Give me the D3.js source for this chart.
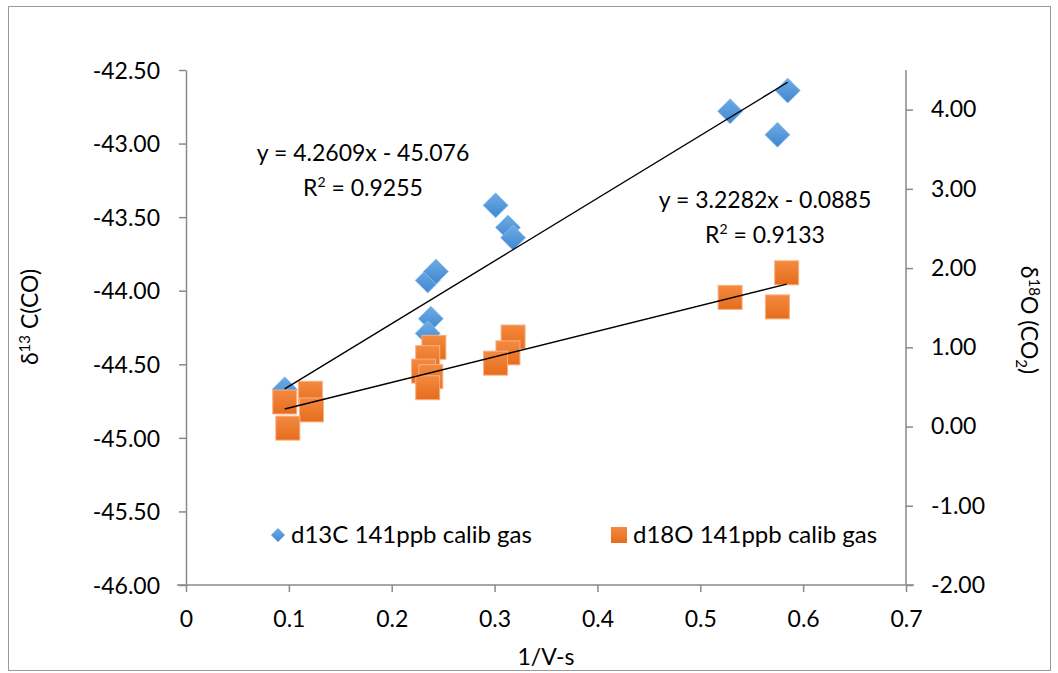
<!DOCTYPE html>
<html><head><meta charset="utf-8">
<script src="https://cdn.jsdelivr.net/npm/d3@7"></script>
<style>
body{margin:0;background:#fff;}
svg text{font-family:Lato,"Open Sans",sans-serif;fill:#000;}
</style></head>
<body><svg id="c" width="1058" height="673"></svg>
<script>
// ---- data ----
const d13cX = [0.096, 0.235, 0.243, 0.238, 0.235, 0.301, 0.313, 0.318, 0.529, 0.585, 0.575];
const d13cY = [-44.67, -43.93, -43.87, -44.19, -44.29, -43.42, -43.57, -43.64, -42.78, -42.64, -42.94];
const d18oX = [0.096, 0.121, 0.122, 0.099, 0.241, 0.235, 0.231, 0.238, 0.235, 0.318, 0.313, 0.301, 0.584, 0.529, 0.575];
const d18oY = [0.31, 0.42, 0.21, -0.02, 1.00, 0.87, 0.70, 0.63, 0.49, 1.13, 0.93, 0.80, 1.94, 1.63, 1.51];
const xTicks = [0, 0.1, 0.2, 0.3, 0.4, 0.5, 0.6, 0.7];
const leftTicks = [-42.5, -43, -43.5, -44, -44.5, -45, -45.5, -46];
const rightTicks = [4, 3, 2, 1, 0, -1, -2];
const fit13 = {slope: 4.2609, intercept: -45.076, r2: "0.9255", label: "y = 4.2609x - 45.076"};
const fit18 = {slope: 3.2282, intercept: -0.0885, r2: "0.9133", label: "y = 3.2282x - 0.0885"};
const seriesNames = ["d13C 141ppb calib gas", "d18O 141ppb calib gas"];

const FS = "23px";
const svg = d3.select("#c");
const defs = svg.append("defs");
const gb = defs.append("linearGradient").attr("id","gBlue").attr("x1",0).attr("y1",0).attr("x2",0).attr("y2",1);
gb.append("stop").attr("offset","0%").attr("stop-color","#6eabe6");
gb.append("stop").attr("offset","100%").attr("stop-color","#3f87cf");
const go = defs.append("linearGradient").attr("id","gOrange").attr("x1",0).attr("y1",0).attr("x2",0).attr("y2",1);
go.append("stop").attr("offset","0%").attr("stop-color","#f38a40");
go.append("stop").attr("offset","100%").attr("stop-color","#e76c1c");

// outer border
svg.append("rect").attr("x",8.5).attr("y",6.5).attr("width",1042).attr("height",664)
  .attr("fill","none").attr("stroke","#9a9a9a").attr("stroke-width",1);

const x = d3.scaleLinear().domain([0,0.7]).range([186,906]);
const yL = d3.scaleLinear().domain([-46,-42.5]).range([585,70]);
const yR = d3.scaleLinear().domain([-2,4.5]).range([585,70]);

const fmt2 = d => d3.format(".2f")(d).replace("\u2212","-");
const axisColor = "#8a8a8a";
function styleAxis(g){
  g.select(".domain").attr("stroke",axisColor).attr("stroke-width",1.5);
  g.selectAll(".tick line").attr("stroke",axisColor).attr("stroke-width",1.5);
  g.selectAll(".tick text").style("font-size",FS).attr("fill","#000");
}
const gx = svg.append("g").attr("transform","translate(0,585)")
  .call(d3.axisBottom(x).tickValues(xTicks).tickSize(7).tickSizeOuter(0).tickPadding(19).tickFormat(d=>d===0?"0":d3.format(".1f")(d)));
styleAxis(gx);
gx.select(".domain").attr("d","M177,0H914");
const gl = svg.append("g").attr("transform","translate(186,0)")
  .call(d3.axisLeft(yL).tickValues(leftTicks).tickSize(7).tickSizeOuter(0).tickPadding(19).tickFormat(fmt2));
styleAxis(gl);
gl.selectAll(".tick text").attr("dy","0.36em");
const gr = svg.append("g").attr("transform","translate(906,0)")
  .call(d3.axisRight(yR).tickValues(rightTicks).tickSize(7).tickSizeOuter(0).tickPadding(18).tickFormat(fmt2));
styleAxis(gr);
gr.select(".domain").attr("d","M0,70V585");

// markers
const diamond = s => `M0,${-s}L${s},0L0,${s}L${-s},0Z`;
svg.append("g").selectAll("path").data(d13cX.map((v,i)=>[v,d13cY[i]])).join("path")
  .attr("d",diamond(12.5)).attr("transform",d=>`translate(${x(d[0])},${yL(d[1])})`)
  .attr("fill","url(#gBlue)").attr("stroke","#8fc0ee").attr("stroke-width",0.8);
svg.append("g").selectAll("rect").data(d18oX.map((v,i)=>[v,d18oY[i]])).join("rect")
  .attr("x",d=>x(d[0])-12).attr("y",d=>yR(d[1])-12).attr("width",24).attr("height",24)
  .attr("fill","url(#gOrange)").attr("stroke","#f7b083").attr("stroke-width",1);

// trendlines
const ext13 = d3.extent(d13cX), ext18 = d3.extent(d18oX);
svg.append("line").attr("x1",x(ext13[0])).attr("x2",x(ext13[1]))
  .attr("y1",yL(fit13.slope*ext13[0]+fit13.intercept)).attr("y2",yL(fit13.slope*ext13[1]+fit13.intercept))
  .attr("stroke","#000").attr("stroke-width",1.4);
svg.append("line").attr("x1",x(ext18[0])).attr("x2",x(ext18[1]))
  .attr("y1",yR(fit18.slope*ext18[0]+fit18.intercept)).attr("y2",yR(fit18.slope*ext18[1]+fit18.intercept))
  .attr("stroke","#000").attr("stroke-width",1.4);

// equation labels
function eqLabel(cx, by, fit){
  svg.append("text").attr("x",cx).attr("y",by).attr("text-anchor","middle").style("font-size",FS).text(fit.label);
  const t = svg.append("text").attr("x",cx).attr("y",by+35).attr("text-anchor","middle").style("font-size",FS);
  t.append("tspan").text("R");
  t.append("tspan").text("2").style("font-size","14px").attr("dy","-9");
  t.append("tspan").text(" = "+fit.r2).attr("dy","9");
}
eqLabel(363, 161, fit13);
eqLabel(765, 208, fit18);

// legend
svg.append("path").attr("d",diamond(7)).attr("transform","translate(278,535)").attr("fill","url(#gBlue)");
svg.append("text").attr("x",291).attr("y",543).style("font-size","24px").text(seriesNames[0]);
svg.append("rect").attr("x",611).attr("y",527).attr("width",16).attr("height",16).attr("fill","url(#gOrange)");
svg.append("text").attr("x",633).attr("y",543).style("font-size","24px").text(seriesNames[1]);

// axis titles
svg.append("text").attr("x",546).attr("y",665).attr("text-anchor","middle").style("font-size",FS).text("1/V-s");
const lt = svg.append("text").attr("transform","translate(38,317) rotate(-90)").attr("text-anchor","middle").style("font-size",FS);
lt.append("tspan").text("δ");
lt.append("tspan").text("13").style("font-size","15px").attr("dy","-8");
lt.append("tspan").text(" C(CO)").attr("dy","8");
const rt = svg.append("text").attr("transform","translate(1021,320) rotate(90)").attr("text-anchor","middle").style("font-size",FS);
rt.append("tspan").text("δ");
rt.append("tspan").text("18").style("font-size","15px").attr("dy","-8");
rt.append("tspan").text("O (CO").attr("dy","8");
rt.append("tspan").text("2").style("font-size","15px").attr("dy","5");
rt.append("tspan").text(")").attr("dy","-5");
</script></body></html>
